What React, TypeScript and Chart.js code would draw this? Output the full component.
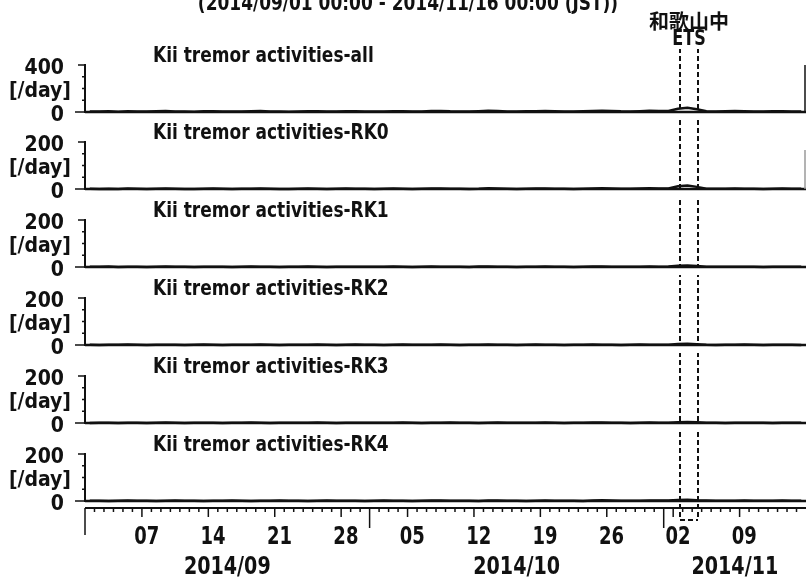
import React, { useEffect, useRef } from "react";
import { Chart, registerables } from "chart.js";

Chart.register(...registerables);

const FAMILY = '"DejaVu Sans Condensed", "DejaVu Sans", sans-serif';
const CJK = '"Noto Sans CJK JP", sans-serif';
const INK = "#111111";

const WIDTH = 806;
const HEIGHT = 582;

// Time axis: days counted from 2014/09/01 00:00 JST
const TOTAL_DAYS = 76;
const periodTitle = "(2014/09/01 00:00 - 2014/11/16 00:00 (JST))";
const weekTickDays = [6, 13, 20, 27, 34, 41, 48, 55, 62, 69];
const weekTickLabels = ["07", "14", "21", "28", "05", "12", "19", "26", "02", "09"];
const monthStartDays = [0, 30, 61];
const monthLabels = ["2014/09", "2014/10", "2014/11"];

// ETS episode
const etsRegion = "和歌山中";
const etsName = "ETS";
const etsStartDay = 62.7;
const etsEndDay = 64.6;

const panelTitles = [
  "Kii tremor activities-all",
  "Kii tremor activities-RK0",
  "Kii tremor activities-RK1",
  "Kii tremor activities-RK2",
  "Kii tremor activities-RK3",
  "Kii tremor activities-RK4",
];
const panelMax = [400, 200, 200, 200, 200, 200];
const unitLabel = "[/day]";

// Daily tremor counts, 2014/09/01 .. 2014/11/15
const countsAll = [
  5, 4, 6, 3, 7, 5, 4, 6, 9, 5, 4, 3, 6, 7, 5, 4, 5, 6, 8, 5, 4, 3, 5, 7, 6, 4, 5, 7, 6, 5,
  4, 5, 7, 6, 4, 5, 8, 9, 6, 5, 4, 7, 10, 8, 5, 4, 6, 7, 9, 7, 5, 4, 6, 8, 11, 9, 6, 5, 7, 10, 8,
  9, 28, 36, 24, 7, 5, 6, 8, 6, 5, 4, 6, 7, 5, 4,
];
const countsRK0 = [
  1, 0, 1, 0, 2, 1, 0, 1, 2, 1, 0, 0, 1, 2, 1, 0, 1, 1, 2, 1, 0, 0, 1, 2, 1, 0, 1, 2, 1, 1,
  0, 1, 2, 1, 0, 1, 2, 2, 1, 1, 0, 1, 3, 2, 1, 0, 1, 2, 2, 1, 1, 0, 1, 2, 3, 2, 1, 1, 2, 3, 2,
  2, 12, 15, 9, 1, 1, 1, 2, 1, 1, 0, 1, 2, 1, 1,
];
const countsRK1 = [
  1, 1, 2, 0, 1, 1, 0, 1, 2, 1, 1, 0, 1, 1, 1, 0, 1, 2, 1, 1, 0, 1, 1, 2, 1, 0, 1, 1, 1, 1,
  1, 1, 2, 1, 0, 1, 2, 1, 1, 1, 0, 2, 2, 1, 1, 0, 1, 1, 2, 1, 1, 0, 1, 2, 2, 1, 1, 1, 1, 2, 1,
  2, 5, 6, 4, 1, 1, 1, 1, 1, 1, 0, 1, 1, 1, 1,
];
const countsRK2 = [
  1, 0, 1, 1, 2, 1, 0, 1, 1, 1, 0, 1, 2, 1, 0, 1, 1, 1, 2, 1, 0, 1, 1, 1, 2, 1, 0, 1, 2, 1,
  1, 0, 1, 2, 1, 1, 1, 2, 1, 0, 1, 1, 2, 1, 1, 0, 1, 2, 1, 1, 0, 1, 1, 2, 1, 1, 0, 1, 2, 1, 1,
  1, 4, 5, 3, 1, 0, 1, 1, 2, 1, 0, 1, 1, 1, 0,
];
const countsRK3 = [
  0, 1, 1, 0, 1, 1, 0, 1, 2, 1, 0, 1, 1, 1, 0, 1, 1, 2, 1, 0, 1, 1, 1, 1, 2, 1, 0, 1, 1, 1,
  1, 1, 1, 2, 1, 0, 1, 1, 2, 1, 1, 0, 1, 2, 1, 1, 1, 1, 2, 1, 0, 1, 1, 2, 2, 1, 1, 0, 1, 2, 1,
  1, 3, 4, 3, 1, 1, 0, 1, 1, 1, 1, 0, 1, 1, 1,
];
const countsRK4 = [
  1, 1, 0, 1, 2, 1, 1, 0, 1, 2, 1, 1, 0, 1, 1, 2, 1, 0, 1, 1, 2, 1, 1, 0, 1, 2, 1, 1, 1, 0,
  1, 2, 1, 1, 0, 1, 2, 2, 1, 1, 1, 0, 2, 2, 1, 1, 0, 1, 2, 1, 1, 1, 0, 2, 3, 2, 1, 1, 1, 2, 2,
  2, 4, 5, 3, 2, 1, 1, 1, 2, 1, 1, 1, 2, 1, 1,
];
const panelCounts = [countsAll, countsRK0, countsRK1, countsRK2, countsRK3, countsRK4];

// Page layout (pixels)
const ZERO_Y = [112, 189, 267, 345, 423, 501];
const PANEL_H = 47;
const Y_AXIS_X = 85;
const ETS_TOP = 49;
const ETS_BOTTOM = 520;
const AXIS_GAP = 7;

// Text drawn with a horizontal squeeze to get a narrow bold face
function drawText(
  ctx: CanvasRenderingContext2D,
  text: string,
  x: number,
  y: number,
  font: string,
  align: CanvasTextAlign,
  baseline: CanvasTextBaseline,
  sx: number
) {
  ctx.save();
  ctx.font = font;
  ctx.textAlign = align;
  ctx.textBaseline = baseline;
  ctx.translate(x, y);
  ctx.scale(sx, 1);
  ctx.fillText(text, 0, 0);
  ctx.restore();
}

function Panel({ index }: { index: number }) {
  const ref = useRef<HTMLCanvasElement>(null);
  const last = index === panelTitles.length - 1;
  const zero = ZERO_Y[index];
  const canvasTop = index === 0 ? 0 : zero - 70;
  const canvasBottom = last ? HEIGHT : zero + 20;
  const h = canvasBottom - canvasTop;

  useEffect(() => {
    const canvas = ref.current;
    if (!canvas) return;
    const max = panelMax[index];
    const data = panelCounts[index].map((v, d) => ({ x: d + 0.5, y: v }));

    const decor = {
      id: "panelDecor",
      afterDraw(chart: any) {
        const { ctx, chartArea } = chart;
        const x = chart.scales.x;
        const y = chart.scales.y;
        const left = chartArea.left;
        const bottom = chartArea.bottom;
        ctx.save();
        ctx.strokeStyle = INK;
        ctx.fillStyle = INK;

        // zero baseline across the full time range
        ctx.lineWidth = 2.5;
        ctx.beginPath();
        ctx.moveTo(x.getPixelForValue(0), bottom);
        ctx.lineTo(x.getPixelForValue(TOTAL_DAYS), bottom);
        ctx.stroke();

        // y tick marks: labelled ends, short quarter marks
        ctx.lineWidth = 1.5;
        for (let k = 0; k <= 4; k++) {
          const py = y.getPixelForValue((max * k) / 4);
          const len = k === 0 ? 10 : k === 4 ? 7 : 3;
          ctx.beginPath();
          ctx.moveTo(left - len, py);
          ctx.lineTo(left, py);
          ctx.stroke();
        }

        // right frame edge
        if (index < 2) {
          ctx.strokeStyle = index === 0 ? INK : "#9a9a9a";
          ctx.lineWidth = 1.5;
          ctx.beginPath();
          ctx.moveTo(WIDTH - 1, index === 0 ? chartArea.top : chartArea.top + 8);
          ctx.lineTo(WIDTH - 1, bottom);
          ctx.stroke();
          ctx.strokeStyle = INK;
        }

        // panel title and unit
        drawText(ctx, panelTitles[index], 153, chartArea.top - 8, `bold 21px ${FAMILY}`, "left", "middle", 0.9);
        drawText(ctx, unitLabel, 71, bottom - 20, `bold 21px ${FAMILY}`, "right", "middle", 1);

        // ETS window
        const ex1 = Math.round(x.getPixelForValue(etsStartDay));
        const ex2 = Math.round(x.getPixelForValue(etsEndDay));
        const gTop = index === 0 ? ETS_TOP : ZERO_Y[index - 1] + 1;
        const gBot = last ? ETS_BOTTOM : zero + 1;
        ctx.lineWidth = 2;
        ctx.setLineDash([5, 3]);
        ctx.lineDashOffset = gTop % 8;
        [ex1, ex2].forEach((ex) => {
          ctx.beginPath();
          ctx.moveTo(ex, gTop - canvasTop);
          ctx.lineTo(ex, gBot - canvasTop);
          ctx.stroke();
        });
        if (last) {
          ctx.lineDashOffset = 0;
          ctx.beginPath();
          ctx.moveTo(ex1, ETS_BOTTOM - canvasTop);
          ctx.lineTo(ex2, ETS_BOTTOM - canvasTop);
          ctx.stroke();
        }
        ctx.setLineDash([]);

        if (index === 0) {
          const ec = (ex1 + ex2) / 2;
          drawText(ctx, periodTitle, 408, 10, `bold 21px ${FAMILY}`, "center", "alphabetic", 0.9);
          drawText(ctx, etsRegion, ec, 21, `bold 20px ${CJK}`, "center", "middle", 1);
          drawText(ctx, etsName, ec, 40, `bold 21px ${FAMILY}`, "center", "middle", 0.85);
        }

        if (last) {
          // time axis below the bottom panel
          const ay = bottom + AXIS_GAP;
          ctx.lineWidth = 2;
          ctx.beginPath();
          ctx.moveTo(x.getPixelForValue(0), ay);
          ctx.lineTo(x.getPixelForValue(TOTAL_DAYS), ay);
          ctx.stroke();
          ctx.lineWidth = 1.5;
          for (let d = 0; d < TOTAL_DAYS; d++) {
            const px = x.getPixelForValue(d);
            let len = 4;
            if (d === 0) len = 27;
            else if (monthStartDays.includes(d)) len = 20;
            else if (weekTickDays.includes(d)) len = 9;
            ctx.beginPath();
            ctx.moveTo(px, ay);
            ctx.lineTo(px, ay + len);
            ctx.stroke();
          }
          weekTickDays.forEach((d, k) => {
            drawText(ctx, weekTickLabels[k], x.getPixelForValue(d + 0.5), ay + 29, `bold 25px ${FAMILY}`, "center", "middle", 0.8);
          });
          monthStartDays.forEach((d, k) => {
            const end = k + 1 < monthStartDays.length ? monthStartDays[k + 1] : TOTAL_DAYS;
            drawText(ctx, monthLabels[k], x.getPixelForValue((d + end) / 2), ay + 59, `bold 25px ${FAMILY}`, "center", "middle", 0.85);
          });
        }
        ctx.restore();
      },
    };

    const chart = new Chart(canvas, {
      type: "line",
      data: {
        datasets: [
          {
            data,
            borderColor: INK,
            borderWidth: 2.5,
            pointRadius: 0,
            tension: 0,
            clip: false,
          } as any,
        ],
      },
      options: {
        responsive: false,
        animation: false,
        devicePixelRatio: 1,
        events: [],
        layout: {
          padding: { top: zero - PANEL_H - canvasTop, bottom: canvasBottom - zero, left: 0, right: 0 },
        },
        plugins: {
          legend: { display: false },
          tooltip: { enabled: false },
          title: { display: false },
        },
        scales: {
          x: { type: "linear", min: 0, max: TOTAL_DAYS, display: false },
          y: {
            type: "linear",
            min: 0,
            max,
            afterFit: (s: any) => {
              s.width = Y_AXIS_X;
            },
            grid: { display: false, drawTicks: true, tickLength: 19 },
            border: { display: true, width: 2, color: INK },
            ticks: {
              stepSize: max / 4,
              autoSkip: false,
              callback: (v: any) => (v === 0 || v === max ? String(v) : ""),
              padding: 2,
              labelOffset: 4,
              color: INK,
              font: { family: FAMILY, size: 21, weight: "bold" },
            },
          },
        },
      } as any,
      plugins: [decor],
    });
    return () => chart.destroy();
  }, [index]);

  return (
    <canvas
      ref={ref}
      width={WIDTH}
      height={h}
      style={{ position: "absolute", left: 0, top: canvasTop, width: WIDTH, height: h }}
    />
  );
}

export default function App() {
  return (
    <div
      style={{
        position: "absolute",
        left: 0,
        top: 0,
        width: WIDTH,
        height: HEIGHT,
        background: "#ffffff",
        overflow: "hidden",
      }}
    >
      {panelTitles.map((_, i) => (
        <Panel key={i} index={i} />
      ))}
    </div>
  );
}
